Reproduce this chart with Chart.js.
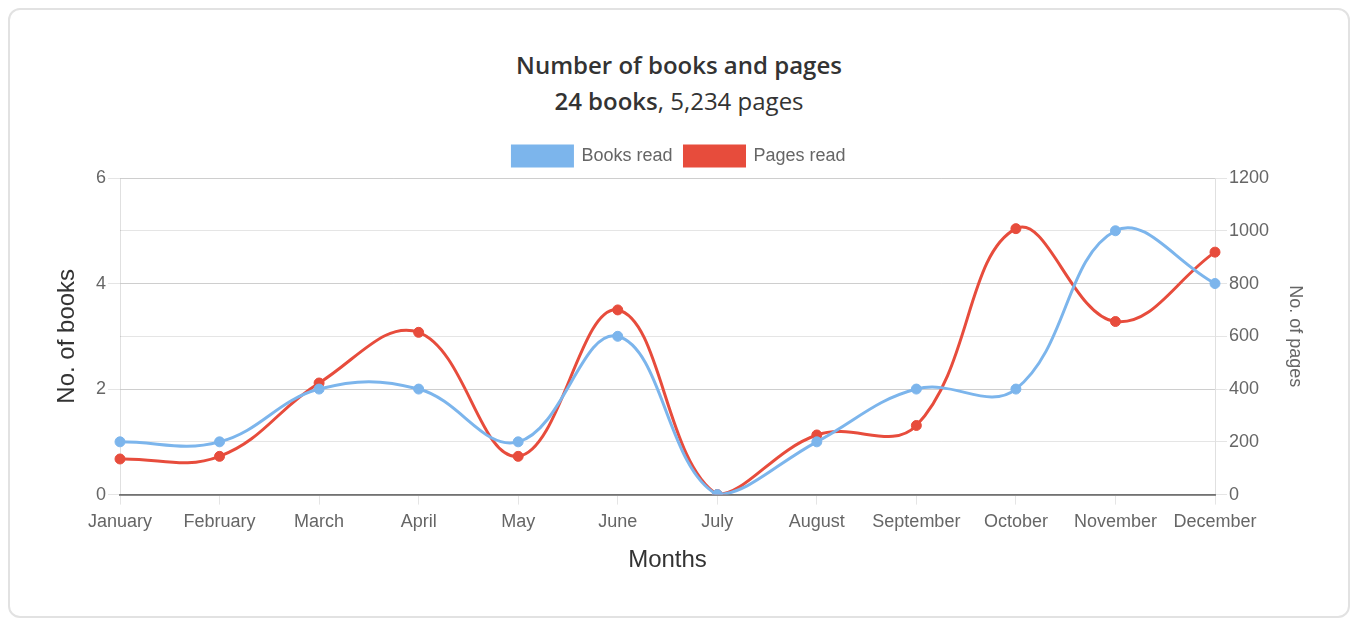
<!DOCTYPE html>
<html>
<head>
<meta charset="utf-8">
<script src="https://cdn.jsdelivr.net/npm/chart.js@4"></script>
<style>
  html, body { margin: 0; padding: 0; background: #fff; }
  .card {
    position: absolute; left: 8px; top: 8px; width: 1338px; height: 606px;
    border: 2px solid #e2e2e2; border-radius: 12px; background: #fff;
  }
  .titulo {
    position: absolute; left: 0; right: 0; top: 38px; text-align: center;
    font-family: "Open Sans", sans-serif; font-size: 24px; font-weight: 600; color: #333;
  }
  .subtitulo {
    position: absolute; left: 0; right: 0; top: 74px; text-align: center;
    font-family: "Open Sans", sans-serif; font-size: 24px; color: #333;
  }
  .subtitulo b { font-weight: 600; }
  .grafico { position: absolute; left: 1px; top: 124px; width: 1336px; height: 445px; }
</style>
</head>
<body>
<div class="card">
  <div class="titulo">Number of books and pages</div>
  <div class="subtitulo"><b>24 books</b>, 5,234 pages</div>
  <div class="grafico"><canvas id="lineChart"></canvas></div>
</div>
<script>
// dados do grafico
var meses = ['January', 'February', 'March', 'April', 'May', 'June', 'July',
    'August', 'September', 'October', 'November', 'December'];
var livrosLidos = [1, 1, 2, 2, 1, 3, 0, 1, 2, 2, 5, 4];
var paginasLidas = [135, 145, 423, 615, 145, 700, 0, 226, 262, 1008, 656, 919];
var ticksLivros = [0, 2, 4, 6];
var ticksPaginas = [0, 200, 400, 600, 800, 1000, 1200];

var corLivros = '#7cb5ec';
var corPaginas = '#e74c3c';
var familia = '"Liberation Sans", Arial, sans-serif';
var fonteTicks = { family: familia, size: 18 };

// espaco extra entre a legenda e o grafico
var margemLegenda = {
    id: 'margemLegenda',
    beforeInit: function (chart) {
        var fitOriginal = chart.legend.fit;
        chart.legend.fit = function () {
            fitOriginal.bind(chart.legend)();
            this.height += 2;
        };
    }
};

var lineChartCanvas = document.getElementById('lineChart').getContext('2d');

var lineChart = new Chart(lineChartCanvas, {
    type: 'line',
    data: {
        labels: meses,
        datasets: [{
            label: 'Books read',
            data: livrosLidos,
            yAxisID: 'y',
            borderColor: corLivros,
            backgroundColor: corLivros,
            pointBackgroundColor: corLivros,
            pointBorderColor: corLivros,
            borderWidth: 3,
            pointRadius: 5,
            pointBorderWidth: 1,
            tension: 0.4,
            fill: false
        }, {
            label: 'Pages read',
            data: paginasLidas,
            yAxisID: 'y1',
            borderColor: corPaginas,
            backgroundColor: corPaginas,
            pointBackgroundColor: corPaginas,
            pointBorderColor: corPaginas,
            borderWidth: 3,
            pointRadius: 5,
            pointBorderWidth: 1,
            tension: 0.4,
            fill: false
        }]
    },
    plugins: [margemLegenda],
    options: {
        maintainAspectRatio: false,
        responsive: true,
        animation: false,
        plugins: {
            legend: {
                display: true,
                labels: {
                    boxWidth: 60,
                    boxHeight: 20,
                    color: '#666',
                    padding: 12,
                    font: fonteTicks
                }
            },
            tooltip: { enabled: false }
        },
        scales: {
            x: {
                grid: {
                    drawOnChartArea: false,
                    drawTicks: true,
                    tickLength: 10,
                    color: 'rgba(0,0,0,0.1)'
                },
                border: { color: 'rgba(0,0,0,0.45)', width: 2 },
                ticks: { color: '#666', font: fonteTicks, padding: 7, maxRotation: 0 },
                title: {
                    display: true,
                    text: 'Months',
                    color: '#333',
                    font: { family: familia, size: 24 },
                    padding: { top: 6, bottom: 4 }
                }
            },
            y: {
                position: 'left',
                min: 0,
                max: 6,
                afterBuildTicks: function (axis) {
                    axis.ticks = ticksLivros.map(function (v) { return { value: v }; });
                },
                afterFit: function (axis) { axis.width = 109; },
                grid: { color: 'rgba(0,0,0,0.1)', tickLength: 12 },
                border: { color: 'rgba(0,0,0,0.12)' },
                ticks: {
                    color: '#666', font: fonteTicks, padding: 2,
                    callback: function (v) { return String(v); }
                },
                title: {
                    display: true,
                    text: 'No. of books',
                    color: '#333',
                    font: { family: familia, size: 24 },
                    padding: { top: 42, bottom: 0 }
                }
            },
            y1: {
                position: 'right',
                min: 0,
                max: 1200,
                afterBuildTicks: function (axis) {
                    axis.ticks = ticksPaginas.map(function (v) { return { value: v }; });
                },
                afterFit: function (axis) { axis.width = 132; },
                grid: { color: 'rgba(0,0,0,0.1)', tickLength: 12 },
                border: { color: 'rgba(0,0,0,0.12)' },
                ticks: {
                    color: '#666', font: fonteTicks, padding: 2,
                    callback: function (v) { return String(v); }
                },
                title: {
                    display: true,
                    text: 'No. of pages',
                    color: '#666',
                    font: { family: familia, size: 18 },
                    padding: { top: 41, bottom: 0 }
                }
            }
        }
    }
});
</script>
</body>
</html>
